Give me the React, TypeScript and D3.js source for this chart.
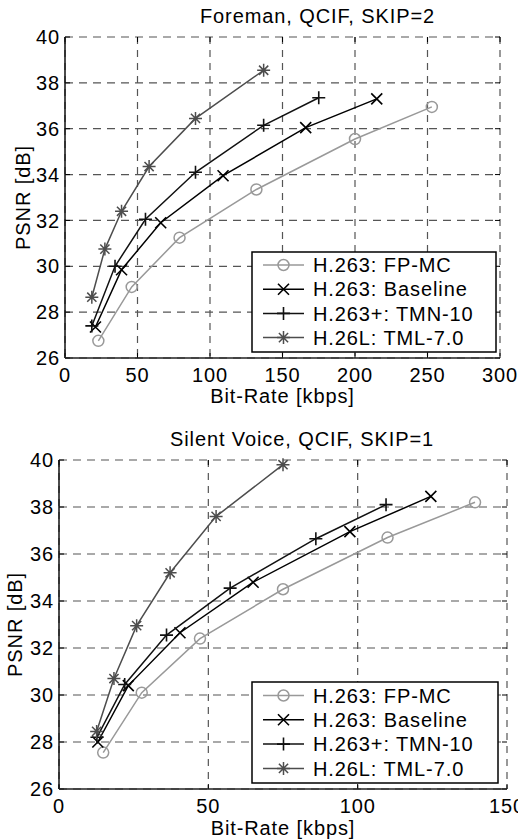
import React from "react";
import * as d3 from "d3";

// ---------- DATA ----------
type Pt = [number, number];

// Foreman, QCIF, SKIP=2  (bit-rate kbps, PSNR dB)
const foremanFPMC: Pt[] = [[23, 26.75], [46, 29.1], [79, 31.25], [132, 33.35], [200, 35.55], [253, 36.95]];
const foremanBaseline: Pt[] = [[21, 27.35], [39, 29.85], [66, 31.9], [109, 33.95], [166, 36.05], [215, 37.3]];
const foremanTMN10: Pt[] = [[18.5, 27.4], [34.5, 30.0], [55.5, 32.05], [90, 34.1], [137, 36.15], [175, 37.35]];
const foremanTML: Pt[] = [[18.5, 28.65], [27.5, 30.75], [39, 32.4], [58, 34.35], [90, 36.45], [137, 38.55]];

// Silent Voice, QCIF, SKIP=1
const silentFPMC: Pt[] = [[14.8, 27.55], [27.7, 30.1], [47.2, 32.4], [75, 34.5], [110, 36.7], [139.3, 38.2]];
const silentBaseline: Pt[] = [[13, 28.0], [23.2, 30.4], [40.5, 32.65], [65, 34.8], [97.4, 36.95], [124.5, 38.45]];
const silentTMN10: Pt[] = [[12.7, 28.2], [22, 30.45], [36, 32.55], [57.3, 34.55], [86, 36.65], [109.5, 38.1]];
const silentTML: Pt[] = [[12.6, 28.45], [18.4, 30.7], [26, 32.95], [37.2, 35.2], [52.6, 37.6], [75, 39.8]];

const seriesNames = ["H.263: FP-MC", "H.263: Baseline", "H.263+: TMN-10", "H.26L: TML-7.0"];
const seriesMarkers = ["circle", "x", "plus", "star"];
const seriesColors = ["#999999", "#000000", "#111111", "#4d4d4d"];

const yTicks = [26, 28, 30, 32, 34, 36, 38, 40];
const foremanXTicks = [0, 50, 100, 150, 200, 250, 300];
const silentXTicks = [0, 50, 100, 150];

const foremanTitle = "Foreman, QCIF, SKIP=2";
const silentTitle = "Silent Voice, QCIF, SKIP=1";
const xLabel = "Bit-Rate [kbps]";
const yLabel = "PSNR [dB]";

const FONT = "'Liberation Sans', Arial, Helvetica, sans-serif";
const LS = 0.9;

function Marker({ kind, x, y, color }: { kind: string; x: number; y: number; color: string }) {
  const s = 5.5;
  if (kind === "circle")
    return <circle cx={x} cy={y} r={5.5} fill="none" stroke={color} strokeWidth={1.5} />;
  if (kind === "x")
    return (
      <path d={`M${x - s},${y - s}L${x + s},${y + s}M${x - s},${y + s}L${x + s},${y - s}`} stroke={color} strokeWidth={1.6} />
    );
  if (kind === "plus")
    return (
      <path d={`M${x - 6.5},${y}L${x + 6.5},${y}M${x},${y - 6.5}L${x},${y + 6.5}`} stroke={color} strokeWidth={1.6} />
    );
  const d = 4.6;
  return (
    <path
      d={`M${x - 6.5},${y}L${x + 6.5},${y}M${x},${y - 6.5}L${x},${y + 6.5}M${x - d},${y - d}L${x + d},${y + d}M${x - d},${y + d}L${x + d},${y - d}`}
      stroke={color}
      strokeWidth={1.5}
    />
  );
}

type ChartProps = {
  series: Pt[][];
  left: number; right: number; top: number; bottom: number;
  xMax: number; xTicks: number[];
  title: string; titleX: number; titleY: number;
  xTickY: number; xLabelY: number; yLabelX: number;
  legend: { x: number; y: number; w: number; h: number; row0: number; step: number };
};

function Chart(p: ChartProps) {
  const x = d3.scaleLinear().domain([0, p.xMax]).range([p.left, p.right]);
  const y = d3.scaleLinear().domain([26, 40]).range([p.bottom, p.top]);
  const line = d3.line<Pt>().x((d) => x(d[0])).y((d) => y(d[1]));
  const grid = "#555";
  const tl = 5;
  return (
    <g fontFamily={FONT} fontSize={20} letterSpacing={LS}>
      {/* grid */}
      {p.xTicks.map((t) => (
        <line key={"gx" + t} x1={x(t)} x2={x(t)} y1={p.top} y2={p.bottom} stroke={grid} strokeWidth={1.2} strokeDasharray="7,6" />
      ))}
      {yTicks.map((t) => (
        <line key={"gy" + t} x1={p.left} x2={p.right} y1={y(t)} y2={y(t)} stroke={grid} strokeWidth={1.2} strokeDasharray="8,6" />
      ))}
      {/* ticks */}
      {p.xTicks.map((t) => (
        <g key={"tx" + t}>
          <line x1={x(t)} x2={x(t)} y1={p.bottom} y2={p.bottom - tl} stroke="#000" />
          <line x1={x(t)} x2={x(t)} y1={p.top} y2={p.top + tl} stroke="#000" />
        </g>
      ))}
      {yTicks.map((t) => (
        <g key={"ty" + t}>
          <line x1={p.left} x2={p.left + tl} y1={y(t)} y2={y(t)} stroke="#000" />
          <line x1={p.right} x2={p.right - tl} y1={y(t)} y2={y(t)} stroke="#000" />
        </g>
      ))}
      {/* axes */}
      <line x1={p.left} x2={p.left} y1={p.top} y2={p.bottom} stroke="#111" strokeWidth={1.5} />
      <line x1={p.left} x2={p.right} y1={p.bottom} y2={p.bottom} stroke="#222" strokeWidth={1.5} />
      {/* series */}
      {p.series.map((s, i) => (
        <g key={"s" + i}>
          <path d={line(s) || ""} fill="none" stroke={seriesColors[i]} strokeWidth={1.5} />
          {s.map((d, j) => (
            <Marker key={j} kind={seriesMarkers[i]} x={x(d[0])} y={y(d[1])} color={seriesColors[i]} />
          ))}
        </g>
      ))}
      {/* tick labels */}
      {p.xTicks.map((t) => (
        <text key={"lx" + t} x={x(t)} y={p.xTickY} textAnchor="middle" fill="#000">{t}</text>
      ))}
      {yTicks.map((t) => (
        <text key={"ly" + t} x={p.left - 5} y={y(t)} dy="0.36em" textAnchor="end" fill="#000">{t}</text>
      ))}
      {/* labels */}
      <text x={p.titleX} y={p.titleY} textAnchor="middle" fill="#000">{p.title}</text>
      <text x={(p.left + p.right) / 2} y={p.xLabelY} textAnchor="middle" fill="#000">{xLabel}</text>
      <text
        transform={`translate(${p.yLabelX},${(p.top + p.bottom) / 2}) rotate(-90)`}
        textAnchor="middle"
        fill="#000"
      >
        {yLabel}
      </text>
      {/* legend */}
      <rect x={p.legend.x} y={p.legend.y} width={p.legend.w} height={p.legend.h} fill="#fff" stroke="#000" strokeWidth={1.5} />
      {seriesNames.map((n, i) => {
        const cy = p.legend.row0 + i * p.legend.step;
        const lx = p.legend.x;
        return (
          <g key={"lg" + i}>
            <line x1={lx + 11} x2={lx + 52} y1={cy} y2={cy} stroke={seriesColors[i]} strokeWidth={1.5} />
            <Marker kind={seriesMarkers[i]} x={lx + 31.5} y={cy} color={seriesColors[i]} />
            <text x={lx + 61} y={cy} dy="0.36em" fill="#000">{n}</text>
          </g>
        );
      })}
    </g>
  );
}

export default function App() {
  return (
    <svg width={518} height={839} style={{ position: "absolute", left: 0, top: 0, background: "#fff" }}>
      <rect width={518} height={839} fill="#fff" />
      <Chart
        series={[foremanFPMC, foremanBaseline, foremanTMN10, foremanTML]}
        left={65} right={500} top={37} bottom={358}
        xMax={300} xTicks={foremanXTicks}
        title={foremanTitle} titleX={317.5} titleY={23}
        xTickY={382} xLabelY={403} yLabelX={30}
        legend={{ x: 252, y: 252, w: 244, h: 100, row0: 265, step: 24.2 }}
      />
      <Chart
        series={[silentFPMC, silentBaseline, silentTMN10, silentTML]}
        left={59} right={507} top={460} bottom={789}
        xMax={150} xTicks={silentXTicks}
        title={silentTitle} titleX={302} titleY={446}
        xTickY={813} xLabelY={835} yLabelX={22}
        legend={{ x: 252, y: 682, w: 246, h: 101, row0: 695.5, step: 24.3 }}
      />
    </svg>
  );
}
